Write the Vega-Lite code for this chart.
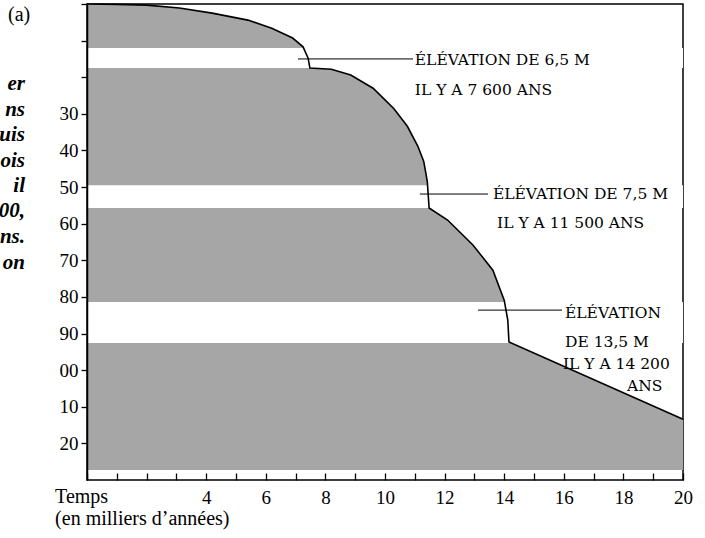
{
  "$schema": "https://vega.github.io/schema/vega-lite/v6.json",
  "width": 596,
  "height": 476,
  "autosize": {"type": "none"},
  "padding": {"left": 87, "top": 4, "right": 22, "bottom": 58},
  "background": "white",
  "config": {
    "view": {"stroke": "black", "strokeWidth": 1.5},
    "axis": {"grid": false, "domainColor": "black", "tickColor": "black", "labelColor": "black", "labelFont": "Liberation Serif"}
  },
  "datasets": {
    "curve": [
      {"t": 0, "depth": 0}, {"t": 1, "depth": 0.1}, {"t": 2, "depth": 0.3}, {"t": 3.1, "depth": 1.1},
      {"t": 4.2, "depth": 2.5}, {"t": 5.4, "depth": 4.4}, {"t": 6.2, "depth": 6.6}, {"t": 6.9, "depth": 9.3},
      {"t": 7.25, "depth": 11.7}, {"t": 7.42, "depth": 14.8}, {"t": 7.48, "depth": 17.5}, {"t": 8.2, "depth": 17.8},
      {"t": 8.85, "depth": 19.4}, {"t": 9.6, "depth": 23}, {"t": 10.0, "depth": 26.2}, {"t": 10.3, "depth": 28.6},
      {"t": 10.75, "depth": 33.4}, {"t": 11.1, "depth": 38.8}, {"t": 11.3, "depth": 43}, {"t": 11.42, "depth": 48.5},
      {"t": 11.48, "depth": 55.7}, {"t": 12.1, "depth": 59}, {"t": 12.95, "depth": 65.8}, {"t": 13.62, "depth": 72.7},
      {"t": 14.0, "depth": 80.9}, {"t": 14.12, "depth": 86.3}, {"t": 14.16, "depth": 92.3}, {"t": 20, "depth": 113.4}
    ],
    "bands": [
      {"t": 0, "t2": 20, "depth": 12.0, "depth2": 17.5},
      {"t": 0, "t2": 20, "depth": 49.5, "depth2": 55.7},
      {"t": 0, "t2": 20, "depth": 81.4, "depth2": 92.6}
    ],
    "leaders": [
      {"t": 7.08, "t2": 10.94, "depth": 15.0},
      {"t": 11.17, "t2": 13.46, "depth": 51.9},
      {"t": 13.12, "t2": 15.94, "depth": 83.6}
    ],
    "topticks": [
      {"t": 1}, {"t": 2}, {"t": 3}, {"t": 4}, {"t": 5}, {"t": 6}, {"t": 7}, {"t": 8}, {"t": 9}, {"t": 10},
      {"t": 11}, {"t": 12}, {"t": 13}, {"t": 14}, {"t": 15}, {"t": 16}, {"t": 17}, {"t": 18}, {"t": 19}
    ],
    "notes": [
      {"t": 11.0, "depth": 15.3, "label": "ÉLÉVATION DE 6,5 M"},
      {"t": 11.0, "depth": 23.5, "label": "IL Y A 7 600 ANS"},
      {"t": 13.62, "depth": 51.9, "label": "ÉLÉVATION DE 7,5 M"},
      {"t": 13.76, "depth": 59.8, "label": "IL Y A 11 500 ANS"},
      {"t": 16.04, "depth": 84.4, "label": "ÉLÉVATION"},
      {"t": 16.04, "depth": 92.3, "label": "DE 13,5 M"},
      {"t": 15.97, "depth": 98.4, "label": "IL Y A 14 200"},
      {"t": 18.12, "depth": 104.4, "label": "ANS"}
    ],
    "fragments": [
      {"t": -2.08, "depth": 23.5, "label": "er"},
      {"t": -2.08, "depth": 30.5, "label": "ns"},
      {"t": -2.08, "depth": 37.4, "label": "uis"},
      {"t": -2.08, "depth": 44.4, "label": "ois"},
      {"t": -2.08, "depth": 51.4, "label": "il"},
      {"t": -2.08, "depth": 58.3, "label": "00,"},
      {"t": -2.08, "depth": 65.3, "label": "ns."},
      {"t": -2.08, "depth": 72.3, "label": "on"}
    ],
    "margin": [
      {"t": -2.65, "depth": 4.6, "label": "(a)"},
      {"t": -1.07, "depth": 136.2, "label": "Temps"},
      {"t": -1.07, "depth": 142.4, "label": "(en milliers d’années)"}
    ]
  },
  "encoding": {
    "x": {"field": "t", "type": "quantitative", "scale": {"domain": [0, 20], "nice": false, "zero": false},
      "axis": {"orient": "bottom", "title": null, "values": [0,1,2,3,4,5,6,7,8,9,10,11,12,13,14,15,16,17,18,19,20],
        "labelExpr": "datum.value >= 4 && datum.value % 2 == 0 ? datum.label : ''",
        "offset": -7, "domain": false, "ticks": true, "tickSize": 7, "tickWidth": 1.3, "labelPadding": 8, "labelFontSize": 19, "labelOverlap": false, "labelFlush": false, "zindex": 2}},
    "y": {"field": "depth", "type": "quantitative", "scale": {"domain": [0, 130], "reverse": true, "nice": false, "zero": false},
      "axis": {"orient": "left", "title": null, "values": [0,10,20,30,40,50,60,70,80,90,100,110,120],
        "labelExpr": "datum.value < 30 ? '' : (datum.value >= 100 ? (datum.value == 100 ? '00' : toString(datum.value - 100)) : datum.label)",
        "ticks": true, "tickSize": 6, "tickWidth": 1.3, "labelPadding": 3, "labelFontSize": 19, "labelOverlap": false, "labelFlush": false, "domainWidth": 1.5, "zindex": 2}}
  },
  "layer": [
    {
      "data": {"name": "curve"},
      "mark": {"type": "area", "color": "#a6a6a6", "opacity": 1},
      "encoding": {"y2": {"datum": 127.3}}
    },
    {
      "data": {"name": "bands"},
      "mark": {"type": "rect", "color": "white"},
      "encoding": {"x2": {"field": "t2"}, "y2": {"field": "depth2"}}
    },
    {
      "data": {"name": "curve"},
      "mark": {"type": "line", "color": "black", "strokeWidth": 1.6},
      "encoding": {}
    },
    {
      "data": {"name": "leaders"},
      "mark": {"type": "rule", "color": "black", "strokeWidth": 1},
      "encoding": {"x2": {"field": "t2"}}
    },
    {
      "data": {"name": "topticks"},
      "mark": {"type": "tick", "orient": "vertical", "color": "black", "thickness": 1.3, "size": 14},
      "encoding": {"y": {"datum": 0}}
    },
    {
      "data": {"name": "notes"},
      "mark": {"type": "text", "align": "left", "baseline": "middle", "font": "DejaVu Serif", "fontSize": 15.5, "color": "black"},
      "encoding": {"text": {"field": "label"}}
    },
    {
      "data": {"name": "fragments"},
      "mark": {"type": "text", "align": "right", "baseline": "alphabetic", "font": "Liberation Serif", "fontSize": 21, "fontWeight": "bold", "fontStyle": "italic", "color": "black"},
      "encoding": {"text": {"field": "label"}}
    },
    {
      "data": {"name": "margin"},
      "mark": {"type": "text", "align": "left", "baseline": "alphabetic", "font": "Liberation Serif", "fontSize": 20, "color": "black"},
      "encoding": {"text": {"field": "label"}}
    }
  ]
}
